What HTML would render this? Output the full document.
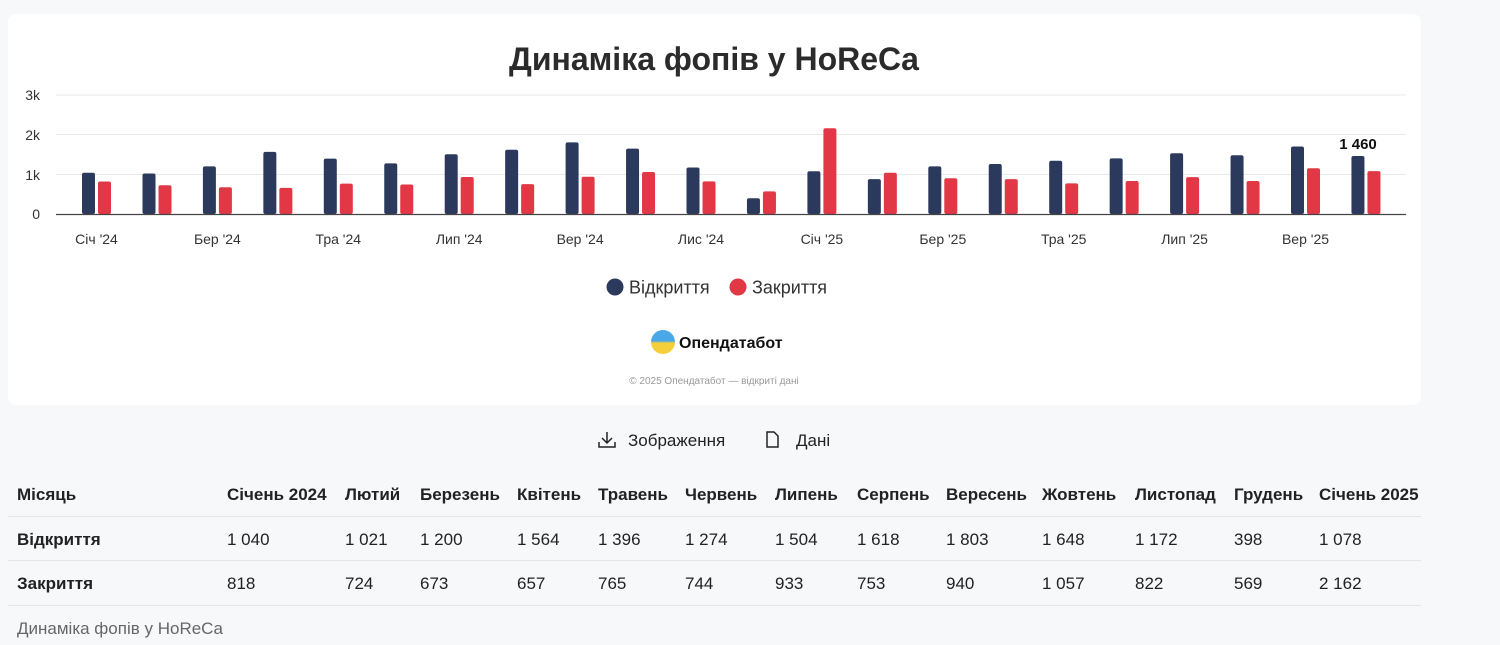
<!DOCTYPE html>
<html><head><meta charset="utf-8"><style>
body{margin:0;width:1500px;height:645px;background:#f7f8fa;font-family:"Liberation Sans",sans-serif;position:relative;overflow:hidden}
.card{position:absolute;left:8px;top:14px;width:1413px;height:391px;background:#fff;border-radius:8px}
.t{position:absolute;white-space:nowrap;font-size:17px;color:#222}
.h{font-weight:bold}
.line{position:absolute;left:8px;width:1413px;height:1px;background:#e3e5e8}
</style></head><body>
<div class="card"></div>
<svg width="1500" height="470" style="position:absolute;left:0;top:0" font-family="Liberation Sans, sans-serif">
<text x="714" y="70" text-anchor="middle" font-size="32" font-weight="bold" fill="#2b2b2b">Динаміка фопів у HoReCa</text>
<g stroke="#e8e8e8" stroke-width="1"><line x1="56" x2="1406" y1="95" y2="95"/><line x1="56" x2="1406" y1="134.5" y2="134.5"/><line x1="56" x2="1406" y1="174.5" y2="174.5"/></g>
<g font-size="14" fill="#333" text-anchor="end"><text x="40" y="100">3k</text><text x="40" y="140">2k</text><text x="40" y="180">1k</text><text x="40" y="219">0</text></g>
<g fill="#2b3a5c">
<rect x="82" y="172.7" width="13" height="41.3" rx="2"/><rect x="142.5" y="173.5" width="13" height="40.5" rx="2"/><rect x="202.9" y="166.4" width="13" height="47.6" rx="2"/><rect x="263.35" y="151.9" width="13" height="62.1" rx="2"/><rect x="323.8" y="158.6" width="13" height="55.4" rx="2"/><rect x="384.25" y="163.4" width="13" height="50.6" rx="2"/><rect x="444.7" y="154.3" width="13" height="59.7" rx="2"/><rect x="505.15" y="149.8" width="13" height="64.2" rx="2"/><rect x="565.6" y="142.4" width="13" height="71.6" rx="2"/><rect x="626.05" y="148.6" width="13" height="65.4" rx="2"/><rect x="686.5" y="167.5" width="13" height="46.5" rx="2"/><rect x="746.95" y="198.2" width="13" height="15.8" rx="2"/><rect x="807.4" y="171.2" width="13" height="42.8" rx="2"/><rect x="867.85" y="179.1" width="13" height="34.9" rx="2"/><rect x="928.3" y="166.4" width="13" height="47.6" rx="2"/><rect x="988.75" y="164" width="13" height="50" rx="2"/><rect x="1049.2" y="160.8" width="13" height="53.2" rx="2"/><rect x="1109.65" y="158.4" width="13" height="55.6" rx="2"/><rect x="1170.1" y="153.3" width="13" height="60.7" rx="2"/><rect x="1230.55" y="155.2" width="13" height="58.8" rx="2"/><rect x="1291" y="146.5" width="13" height="67.5" rx="2"/><rect x="1351.45" y="156" width="13" height="58" rx="2"/>
</g>
<g fill="#e23744">
<rect x="98" y="181.5" width="13" height="32.5" rx="2"/><rect x="158.5" y="185.3" width="13" height="28.7" rx="2"/><rect x="218.9" y="187.3" width="13" height="26.7" rx="2"/><rect x="279.35" y="187.9" width="13" height="26.1" rx="2"/><rect x="339.8" y="183.6" width="13" height="30.4" rx="2"/><rect x="400.25" y="184.5" width="13" height="29.5" rx="2"/><rect x="460.7" y="177" width="13" height="37" rx="2"/><rect x="521.15" y="184.1" width="13" height="29.9" rx="2"/><rect x="581.6" y="176.7" width="13" height="37.3" rx="2"/><rect x="642.05" y="172" width="13" height="42" rx="2"/><rect x="702.5" y="181.4" width="13" height="32.6" rx="2"/><rect x="762.95" y="191.4" width="13" height="22.6" rx="2"/><rect x="823.4" y="128.2" width="13" height="85.8" rx="2"/><rect x="883.85" y="172.7" width="13" height="41.3" rx="2"/><rect x="944.3" y="178.3" width="13" height="35.7" rx="2"/><rect x="1004.75" y="179.1" width="13" height="34.9" rx="2"/><rect x="1065.2" y="183.4" width="13" height="30.6" rx="2"/><rect x="1125.65" y="181" width="13" height="33" rx="2"/><rect x="1186.1" y="177.1" width="13" height="36.9" rx="2"/><rect x="1246.55" y="181" width="13" height="33" rx="2"/><rect x="1307" y="168.3" width="13" height="45.7" rx="2"/><rect x="1367.45" y="171.1" width="13" height="42.9" rx="2"/>
</g>
<line x1="56" x2="1406" y1="214.5" y2="214.5" stroke="#444" stroke-width="1.2"/>
<g font-size="14" fill="#333" text-anchor="middle">
<text x="96.5" y="244">Січ '24</text><text x="217.4" y="244">Бер '24</text><text x="338.3" y="244">Тра '24</text><text x="459.2" y="244">Лип '24</text><text x="580.1" y="244">Вер '24</text><text x="701" y="244">Лис '24</text><text x="821.9" y="244">Січ '25</text><text x="942.8" y="244">Бер '25</text><text x="1063.7" y="244">Тра '25</text><text x="1184.6" y="244">Лип '25</text><text x="1305.5" y="244">Вер '25</text>
</g>
<text x="1358" y="149" text-anchor="middle" font-size="15" font-weight="bold" fill="#111">1 460</text>
<circle cx="615" cy="287" r="8.5" fill="#2b3a5c"/><text x="629" y="293.5" font-size="18" fill="#333">Відкриття</text>
<circle cx="738" cy="287" r="8.5" fill="#e23744"/><text x="752" y="293.5" font-size="18" fill="#333">Закриття</text>
<defs><linearGradient id="g" x1="0" y1="0" x2="0" y2="1"><stop offset="0.45" stop-color="#4aa8e8"/><stop offset="0.55" stop-color="#f5cf3a"/></linearGradient></defs>
<circle cx="663" cy="342" r="12" fill="url(#g)"/>
<text x="679" y="348" font-size="16" font-weight="bold" fill="#111">Опендатабот</text>
<text x="714" y="384" text-anchor="middle" font-size="10" fill="#999">© 2025 Опендатабот — відкриті дані</text>
<g stroke="#222" stroke-width="1.5" fill="none"><path d="M607 432v10M602 438l5 5 5-5M599 442v5h16v-5"/><path d="M767 432h7l4 4v11h-11z"/></g>
<text x="628" y="446" font-size="17" fill="#222">Зображення</text>
<text x="796" y="446" font-size="17" fill="#222">Дані</text>
</svg>
<div class="line" style="top:516px"></div><div class="line" style="top:560px"></div><div class="line" style="top:605px"></div>
<div class="t h" style="left:17px;top:485px">Місяць</div>
<div class="t h" style="left:227px;top:485px">Січень 2024</div><div class="t h" style="left:345px;top:485px">Лютий</div><div class="t h" style="left:420px;top:485px">Березень</div><div class="t h" style="left:517px;top:485px">Квітень</div><div class="t h" style="left:598px;top:485px">Травень</div><div class="t h" style="left:685px;top:485px">Червень</div><div class="t h" style="left:775px;top:485px">Липень</div><div class="t h" style="left:857px;top:485px">Серпень</div><div class="t h" style="left:946px;top:485px">Вересень</div><div class="t h" style="left:1042px;top:485px">Жовтень</div><div class="t h" style="left:1135px;top:485px">Листопад</div><div class="t h" style="left:1234px;top:485px">Грудень</div><div class="t h" style="left:1319px;top:485px">Січень 2025</div>
<div class="t h" style="left:17px;top:530px">Відкриття</div>
<div class="t" style="left:227px;top:530px">1 040</div><div class="t" style="left:345px;top:530px">1 021</div><div class="t" style="left:420px;top:530px">1 200</div><div class="t" style="left:517px;top:530px">1 564</div><div class="t" style="left:598px;top:530px">1 396</div><div class="t" style="left:685px;top:530px">1 274</div><div class="t" style="left:775px;top:530px">1 504</div><div class="t" style="left:857px;top:530px">1 618</div><div class="t" style="left:946px;top:530px">1 803</div><div class="t" style="left:1042px;top:530px">1 648</div><div class="t" style="left:1135px;top:530px">1 172</div><div class="t" style="left:1234px;top:530px">398</div><div class="t" style="left:1319px;top:530px">1 078</div>
<div class="t h" style="left:17px;top:574px">Закриття</div>
<div class="t" style="left:227px;top:574px">818</div><div class="t" style="left:345px;top:574px">724</div><div class="t" style="left:420px;top:574px">673</div><div class="t" style="left:517px;top:574px">657</div><div class="t" style="left:598px;top:574px">765</div><div class="t" style="left:685px;top:574px">744</div><div class="t" style="left:775px;top:574px">933</div><div class="t" style="left:857px;top:574px">753</div><div class="t" style="left:946px;top:574px">940</div><div class="t" style="left:1042px;top:574px">1 057</div><div class="t" style="left:1135px;top:574px">822</div><div class="t" style="left:1234px;top:574px">569</div><div class="t" style="left:1319px;top:574px">2 162</div>
<div class="t" style="left:17px;top:619px;color:#666">Динаміка фопів у HoReCa</div>
</body></html>
